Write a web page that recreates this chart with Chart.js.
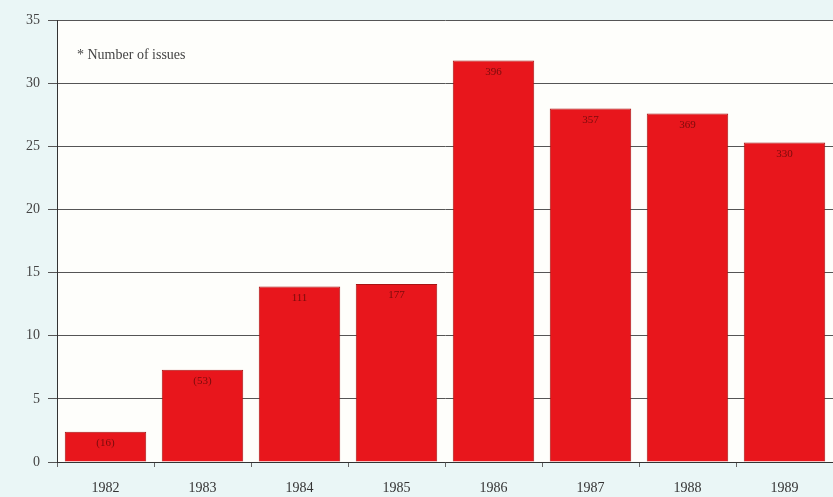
<!DOCTYPE html>
<html>
<head>
<meta charset="utf-8">
<script src="https://cdn.jsdelivr.net/npm/chart.js@4.4.0/dist/chart.umd.min.js"></script>
<style>
  html, body { margin: 0; padding: 0; background: #eaf6f6; }
  #wrap { width: 833px; height: 497px; position: relative; }
</style>
</head>
<body>
<div id="wrap"><canvas id="chart"></canvas></div>
<script>
const years = ["1982", "1983", "1984", "1985", "1986", "1987", "1988", "1989"];
const values = [2.4, 7.3, 13.9, 14.1, 31.8, 28.0, 27.6, 25.3];
const issueLabels = ["(16)", "(53)", "111", "177", "396", "357", "369", "330"];
const yTicks = [0, 5, 10, 15, 20, 25, 30, 35];

const serif = "'Liberation Serif', 'DejaVu Serif', serif";

// white plot area, note text and labels inside bars
const decor = {
  id: "decor",
  beforeDraw(chart) {
    const { ctx, chartArea: a } = chart;
    ctx.save();
    ctx.fillStyle = "#fefefb";
    ctx.fillRect(a.left, a.top, a.right - a.left, a.bottom - a.top);
    ctx.restore();
  },
  afterDatasetsDraw(chart) {
    const { ctx, chartArea: a } = chart;
    const meta = chart.getDatasetMeta(0);
    ctx.save();
    ctx.font = "11px " + serif;
    ctx.fillStyle = "#7a0c0c";
    ctx.textAlign = "center";
    ctx.textBaseline = "top";
    meta.data.forEach((bar, i) => {
      ctx.fillText(issueLabels[i], bar.x, bar.y + 6);
    });
    ctx.font = "14px " + serif;
    ctx.fillStyle = "#444";
    ctx.textAlign = "left";
    ctx.textBaseline = "middle";
    ctx.fillText("* Number of issues", a.left + 20, a.top + 35);
    ctx.restore();
  }
};

new Chart(document.getElementById("chart"), {
  type: "bar",
  data: {
    labels: years,
    datasets: [{
      data: values,
      backgroundColor: "#e8161c",
      borderColor: "#a81414",
      borderWidth: 1,
      barPercentage: 0.84,
      categoryPercentage: 1
    }]
  },
  options: {
    responsive: true,
    maintainAspectRatio: false,
    animation: false,
    layout: { padding: { top: 20, right: 0, bottom: 0, left: 18 } },
    plugins: {
      legend: { display: false },
      tooltip: { enabled: false }
    },
    scales: {
      x: {
        afterFit(axis) { axis.height = 35; },
        grid: { display: true, drawOnChartArea: false, drawTicks: true, tickLength: 5, color: "#666", offset: true },
        border: { color: "#333", width: 1 },
        ticks: { color: "#333", font: { family: serif, size: 14 }, padding: 13 }
      },
      y: {
        min: 0,
        max: 35,
        afterBuildTicks(axis) { axis.ticks = yTicks.map(v => ({ value: v })); },
        grid: { color: "#555", lineWidth: 1, tickLength: 9 },
        border: { color: "#333", width: 1 },
        ticks: { color: "#444", font: { family: serif, size: 14 }, padding: 8 }
      }
    }
  },
  plugins: [decor]
});
</script>
</body>
</html>
